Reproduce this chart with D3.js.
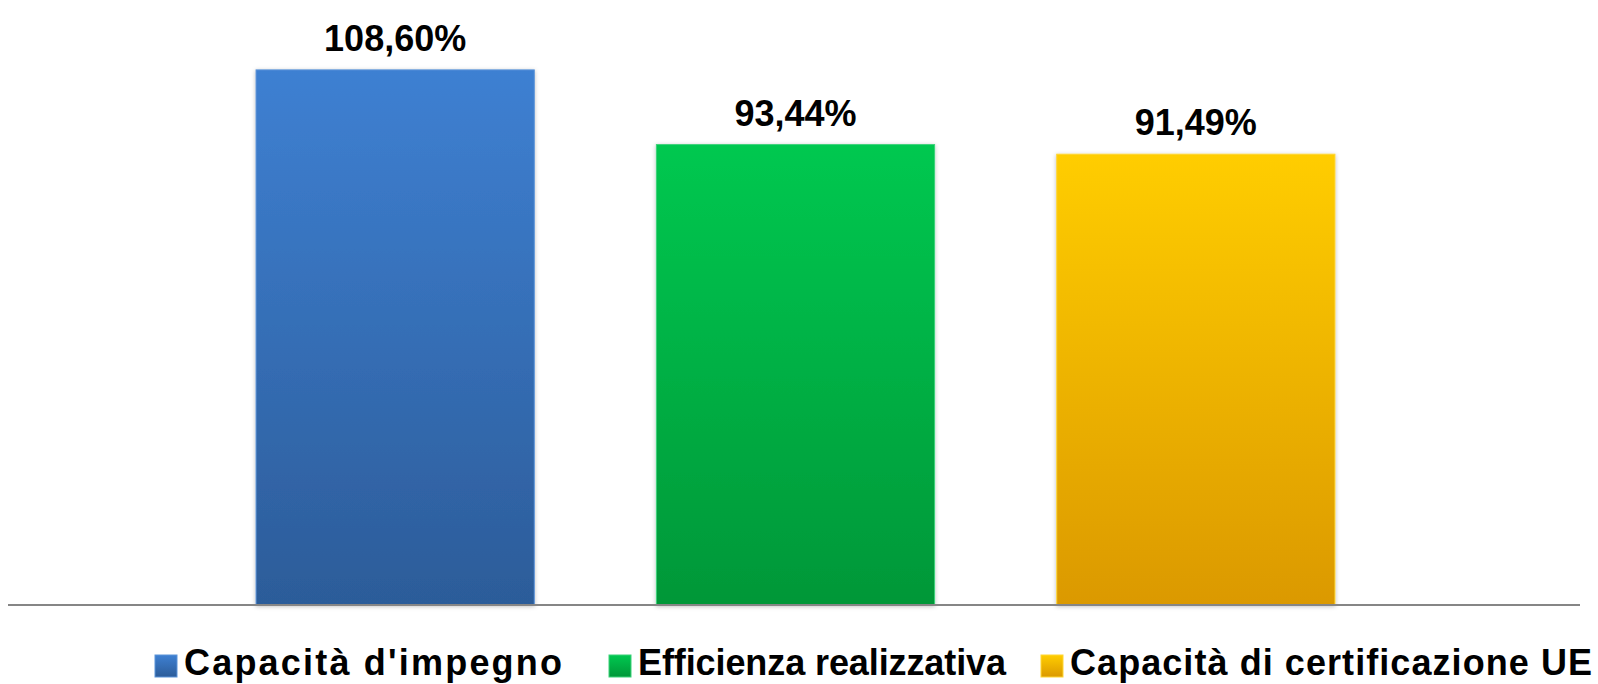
<!DOCTYPE html>
<html>
<head>
<meta charset="utf-8">
<script src="https://cdn.jsdelivr.net/npm/d3@7"></script>
<style>
  html, body { margin: 0; padding: 0; background: #fff; overflow: hidden; }
  svg { display: block; }
</style>
</head>
<body>
<div id="chart"></div>
<script>
var categories = ["Capacità d'impegno", "Efficienza realizzativa", "Capacità di certificazione UE"];
var values = [108.60, 93.44, 91.49];
var valueLabels = ["108,60%", "93,44%", "91,49%"];
var topColors = ["#3e80d2", "#00c850", "#ffcd00"];
var bottomColors = ["#2c5c99", "#009738", "#db9900"];
var strokeColors = ["#5b93d8", "#3bd278", "#ffd633"];

var width = 1598;
var height = 684;
var baseY = 605;

var svg = d3.select("#chart")
  .append("svg")
  .attr("width", width)
  .attr("height", height);

var defs = svg.append("defs");

// one vertical gradient per bar
categories.forEach(function (c, i) {
  var g = defs.append("linearGradient")
    .attr("id", "grad" + i)
    .attr("x1", 0).attr("y1", 0)
    .attr("x2", 0).attr("y2", 1);
  g.append("stop").attr("offset", "0%").attr("stop-color", topColors[i]);
  g.append("stop").attr("offset", "100%").attr("stop-color", bottomColors[i]);
});

defs.append("filter")
  .attr("id", "shadow")
  .attr("x", "-10%").attr("y", "-10%")
  .attr("width", "120%").attr("height", "120%")
  .append("feDropShadow")
  .attr("dx", 0).attr("dy", 1)
  .attr("stdDeviation", 2)
  .attr("flood-color", "#000")
  .attr("flood-opacity", 0.25);

var x = d3.scaleBand()
  .domain(categories)
  .range([195, 1396])
  .paddingInner(0.305)
  .paddingOuter(0.1525);

var y = d3.scaleLinear()
  .domain([0, 110])
  .range([baseY, 63]);

// bars
svg.append("g")
  .selectAll("rect")
  .data(values)
  .enter()
  .append("rect")
  .attr("x", (d, i) => x(categories[i]))
  .attr("y", (d) => y(d))
  .attr("width", x.bandwidth())
  .attr("height", (d) => y(0) - y(d))
  .attr("fill", (d, i) => "url(#grad" + i + ")")
  .attr("stroke", (d, i) => strokeColors[i])
  .attr("stroke-width", 1)
  .attr("filter", "url(#shadow)");

// baseline
svg.append("line")
  .attr("x1", 8)
  .attr("x2", 1580)
  .attr("y1", baseY)
  .attr("y2", baseY)
  .attr("stroke", "#868686")
  .attr("stroke-width", 2);

// value labels
svg.append("g")
  .selectAll("text")
  .data(values)
  .enter()
  .append("text")
  .attr("x", (d, i) => x(categories[i]) + x.bandwidth() / 2)
  .attr("y", (d) => y(d) - 19)
  .attr("text-anchor", "middle")
  .attr("font-family", "'Liberation Sans', Arial, sans-serif")
  .attr("font-weight", "bold")
  .attr("font-size", 36)
  .attr("fill", "#000")
  .text((d, i) => valueLabels[i]);

// legend
var legendX = [155, 609, 1041];
var legendTextW = [378, 368, 522];
var legend = svg.append("g")
  .selectAll("g")
  .data(categories)
  .enter()
  .append("g")
  .attr("transform", (d, i) => `translate(${legendX[i]},0)`);

legend.append("rect")
  .attr("x", 0)
  .attr("y", 655)
  .attr("width", 22)
  .attr("height", 22)
  .attr("fill", (d, i) => "url(#grad" + i + ")")
  .attr("stroke", (d, i) => strokeColors[i])
  .attr("stroke-width", 1);

legend.append("text")
  .attr("x", 29)
  .attr("y", 675)
  .attr("font-family", "'Liberation Sans', Arial, sans-serif")
  .attr("font-weight", "bold")
  .attr("font-size", 36)
  .attr("fill", "#000")
  .attr("textLength", (d, i) => legendTextW[i])
  .attr("lengthAdjust", "spacing")
  .text((d) => d);
</script>
</body>
</html>
